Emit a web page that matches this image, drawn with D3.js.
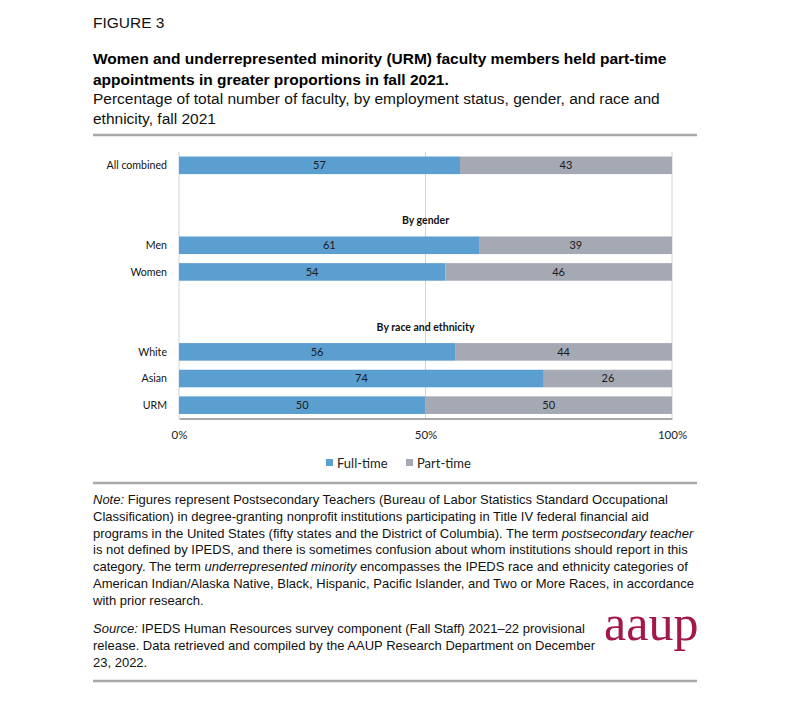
<!DOCTYPE html>
<html>
<head>
<meta charset="utf-8">
<script src="https://cdn.jsdelivr.net/npm/d3@7"></script>
<style>
  html, body { margin: 0; padding: 0; background: #fff; }
  svg { display: block; }
</style>
</head>
<body>
<svg id="chart" width="790" height="719"></svg>
<script>
// ---------- DATA ----------
const rowLabels = ["All combined", "", "By gender", "Men", "Women", "", "By race and ethnicity", "White", "Asian", "URM"];
const rowIsHeader = [false, false, true, false, false, false, true, false, false, false];
const fullTime = [57, null, null, 61, 54, null, null, 56, 74, 50];
const partTime = [43, null, null, 39, 46, null, null, 44, 26, 50];
const seriesNames = ["Full-time", "Part-time"];
const seriesColors = ["#5b9fd1", "#a5a9b4"];
const xTicks = [0, 50, 100];

const figureLabel = "FIGURE 3";
const titleLines = [
  "Women and underrepresented minority (URM) faculty members held part-time",
  "appointments in greater proportions in fall 2021."
];
const subtitleLines = [
  "Percentage of total number of faculty, by employment status, gender, and race and",
  "ethnicity, fall 2021"
];
// each line: list of [text, italic]
const noteLines = [
  [["Note:", true], [" Figures represent Postsecondary Teachers (Bureau of Labor Statistics Standard Occupational", false]],
  [["Classification) in degree-granting nonprofit institutions participating in Title IV federal financial aid", false]],
  [["programs in the United States (fifty states and the District of Columbia). The term ", false], ["postsecondary teacher", true]],
  [["is not defined by IPEDS, and there is sometimes confusion about whom institutions should report in this", false]],
  [["category. The term ", false], ["underrepresented minority", true], [" encompasses the IPEDS race and ethnicity categories of", false]],
  [["American Indian/Alaska Native, Black, Hispanic, Pacific Islander, and Two or More Races, in accordance", false]],
  [["with prior research.", false]]
];
const sourceLines = [
  [["Source:", true], [" IPEDS Human Resources survey component (Fall Staff) 2021\u201322 provisional", false]],
  [["release. Data retrieved and compiled by the AAUP Research Department on December", false]],
  [["23, 2022.", false]]
];
const logoText = "aaup";

// ---------- LAYOUT ----------
const svg = d3.select("#chart");
const textFont = "'Liberation Sans', Arial, sans-serif";
const chartFont = "Lato, 'Open Sans', sans-serif";
const left = 93, right = 697;

// Header
svg.append("text").attr("x", left).attr("y", 28)
  .attr("font-family", textFont).attr("font-size", 15.5).attr("fill", "#111")
  .text(figureLabel);

titleLines.forEach((t, i) => {
  svg.append("text").attr("x", left).attr("y", 64 + i * 21)
    .attr("font-family", textFont).attr("font-size", 15.5).attr("font-weight", "bold").attr("fill", "#000")
    .text(t);
});
subtitleLines.forEach((t, i) => {
  svg.append("text").attr("x", left).attr("y", 104 + i * 19.5)
    .attr("font-family", textFont).attr("font-size", 15.5).attr("fill", "#111")
    .text(t);
});

// rules
[135, 483, 681].forEach(y => {
  svg.append("line").attr("x1", left).attr("x2", right).attr("y1", y).attr("y2", y)
    .attr("stroke", "#a8a8a8").attr("stroke-width", 2.5);
});

// ---------- CHART ----------
const x = d3.scaleLinear().domain([0, 100]).range([179, 672]);
const y = d3.scaleBand().domain(d3.range(rowLabels.length)).range([152, 418.5])
  .paddingInner(0.34).paddingOuter(0.17);

const g = svg.append("g");

// gridlines
g.selectAll("line.grid").data(xTicks).enter().append("line")
  .attr("class", "grid")
  .attr("x1", d => x(d)).attr("x2", d => x(d))
  .attr("y1", 152).attr("y2", 418.5)
  .attr("stroke", "#d4d4d4").attr("stroke-width", 1);

// bars
const rows = rowLabels.map((label, i) => ({ i, label, ft: fullTime[i], pt: partTime[i], header: rowIsHeader[i] }));
const dataRows = rows.filter(r => r.ft != null);

dataRows.forEach(r => {
  const segs = [
    { x0: 0, x1: r.ft, v: r.ft, c: seriesColors[0] },
    { x0: r.ft, x1: r.ft + r.pt, v: r.pt, c: seriesColors[1] }
  ];
  segs.forEach(s => {
    g.append("rect")
      .attr("x", x(s.x0)).attr("width", x(s.x1) - x(s.x0))
      .attr("y", y(r.i)).attr("height", y.bandwidth())
      .attr("fill", s.c);
    g.append("text")
      .attr("x", (x(s.x0) + x(s.x1)) / 2)
      .attr("y", y(r.i) + y.bandwidth() / 2)
      .attr("dy", "0.36em")
      .attr("text-anchor", "middle")
      .attr("font-family", chartFont).attr("font-size", 11).attr("fill", "#1a1a1a")
      .text(s.v);
  });
});

// bottom axis
const xAxis = d3.axisBottom(x).tickValues(xTicks).tickFormat(d => d + "%").tickSize(0).tickPadding(12);
const axG = g.append("g").attr("transform", "translate(0,418.5)").call(xAxis);
axG.select(".domain").attr("stroke", "#8c8c8c").attr("stroke-width", 1.5);
axG.selectAll("text").attr("font-family", chartFont).attr("font-size", 11.5).attr("fill", "#222");

// category labels
rows.filter(r => r.label && !r.header).forEach(r => {
  g.append("text")
    .attr("x", 167).attr("y", y(r.i) + y.bandwidth() / 2).attr("dy", "0.36em")
    .attr("text-anchor", "end")
    .attr("font-family", chartFont).attr("font-size", 10.6).attr("fill", "#111")
    .text(r.label);
});
// section headers
rows.filter(r => r.header).forEach(r => {
  g.append("text")
    .attr("x", x(50)).attr("y", y(r.i) + y.bandwidth() / 2 + 2).attr("dy", "0.36em")
    .attr("text-anchor", "middle")
    .attr("font-family", chartFont).attr("font-size", 10.5).attr("font-weight", "bold").attr("fill", "#111")
    .text(r.label);
});

// legend
const legendItems = [{ name: seriesNames[0], c: seriesColors[0], x: 326 }, { name: seriesNames[1], c: seriesColors[1], x: 406 }];
legendItems.forEach(l => {
  svg.append("rect").attr("x", l.x).attr("y", 459).attr("width", 7).attr("height", 7).attr("fill", l.c);
  svg.append("text").attr("x", l.x + 11).attr("y", 467.5)
    .attr("font-family", chartFont).attr("font-size", 13).attr("fill", "#222")
    .text(l.name);
});

// ---------- NOTES ----------
function writeLines(lines, y0, lh) {
  lines.forEach((parts, i) => {
    const t = svg.append("text").attr("x", left).attr("y", y0 + i * lh)
      .attr("font-family", textFont).attr("font-size", 13).attr("fill", "#111");
    parts.forEach(([s, it]) => {
      t.append("tspan").attr("font-style", it ? "italic" : "normal").text(s);
    });
  });
}
writeLines(noteLines, 504, 16.8);
writeLines(sourceLines, 633, 17);

// logo
svg.append("text").attr("x", 604).attr("y", 640)
  .attr("font-family", "'Liberation Serif', 'DejaVu Serif', serif").attr("font-size", 50)
  .attr("fill", "#a3174b").text(logoText);
</script>
</body>
</html>
